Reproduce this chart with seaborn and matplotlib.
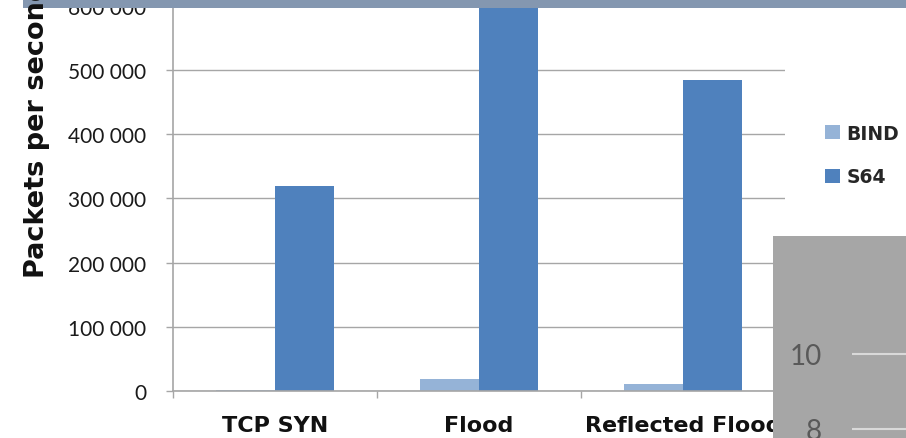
import matplotlib
matplotlib.use("Agg")
import matplotlib.pyplot as plt
import matplotlib.patches as mpatches
import seaborn as sns
import pandas as pd

# Throughput per attack type
categories = ["TCP SYN", "Flood", "Reflected Flood"]
servers = ["BIND", "S64"]
bind_pps = [1000, 18000, 11000]
s64_pps = [320000, 650000, 485000]
y_ticks = [0, 100000, 200000, 300000, 400000, 500000, 600000, 700000]
y_tick_labels = ["0", "100 000", "200 000", "300 000", "400 000", "500 000", "600 000", "700 000"]
side_ticks = [8, 10]

colors = {"BIND": "#95B3D7", "S64": "#4F81BD"}

df = pd.DataFrame({
    "attack": categories * 2,
    "server": ["BIND"] * 3 + ["S64"] * 3,
    "pps": bind_pps + s64_pps,
})

sns.set_style("white")
plt.rcParams["font.family"] = ["DejaVu Sans"]

W, H = 906, 439
fig = plt.figure(figsize=(W / 100, H / 100), dpi=100)

def frac(x0, y0, x1, y1):
    return [x0 / W, 1 - y1 / H, (x1 - x0) / W, (y1 - y0) / H]

# main chart; 0 at y=392 px, 100k per 64.2 px
px_per_unit = 64.2 / 100000
ymax = 700000
ax_top = 392 - ymax * px_per_unit
ax = fig.add_axes(frac(173, ax_top, 785, 392))
sns.barplot(data=df, x="attack", y="pps", hue="server", order=categories,
            hue_order=servers, palette=colors, width=0.574, gap=0,
            saturation=1, ax=ax, legend=False, linewidth=0)
ax.set_xlim(-0.5, 2.5)
ax.set_ylim(0, ymax)
ax.set_yticks(y_ticks)
ax.set_yticklabels(y_tick_labels, fontfamily="Lato", fontsize=15, color="#1a1a1a")
ax.yaxis.grid(True, color="#A6A6A6", linewidth=1)
ax.set_axisbelow(True)
ax.set_xlabel("")
ax.set_ylabel("")
for s in ["top", "right"]:
    ax.spines[s].set_visible(False)
for s in ["left", "bottom"]:
    ax.spines[s].set_color("#A6A6A6")
    ax.spines[s].set_linewidth(1.2)
ax.tick_params(axis="y", which="major", left=True, length=5, width=1, color="#A6A6A6", pad=14)
ax.set_xticks([-0.5, 0.5, 1.5, 2.5])
ax.set_xticklabels([])
ax.set_xticks([0, 1, 2], minor=True)
ax.set_xticklabels(categories, minor=True, fontweight="bold", fontsize=16, color="#111111")
ax.tick_params(axis="x", which="major", bottom=True, length=5, width=1, color="#A6A6A6")
ax.tick_params(axis="x", which="minor", bottom=False, length=0, pad=17)

fig.text(37 / W, 1 - 278 / H, "Packets per second", rotation=90, ha="center", va="bottom",
         fontsize=19.5, fontweight="bold", color="#111111")

handles = [mpatches.Patch(facecolor=colors[s], edgecolor="none", label=s) for s in servers]
fig.legend(handles=handles, loc="center left", bbox_to_anchor=(808 / W, 1 - 156 / H),
           frameon=False, handlelength=0.8, handleheight=0.8, handletextpad=0.35,
           labelspacing=1.3, prop={"weight": "bold", "size": 13.5})

# banner along the top edge
band = fig.add_axes(frac(23, 0, 906, 9))
band.set_facecolor("#8497B0")
band.set_xticks([]); band.set_yticks([])
for s in band.spines.values():
    s.set_visible(False)

# grey panel at lower right
panel = fig.add_axes(frac(773, 237, 906, 439))
panel.set_facecolor("#A6A6A6")
panel.set_xticks([]); panel.set_yticks([])
for s in panel.spines.values():
    s.set_visible(False)

inner = fig.add_axes(frac(852, 237, 906, 439))
inner.patch.set_alpha(0)
y_at_10, y_at_8 = 355, 430
per_px = 2 / (y_at_8 - y_at_10)
inner.set_ylim(8 - (439 - y_at_8) * per_px, 10 + (y_at_10 - 237) * per_px)
inner.set_xlim(0, 1)
inner.set_xticks([])
inner.set_yticks(side_ticks)
inner.set_yticklabels([str(t) for t in side_ticks], fontfamily="Lato", fontsize=20, color="#595959")
inner.tick_params(axis="y", length=0, pad=22)
inner.yaxis.grid(True, color="#D9D9D9", linewidth=1.5)
for s in inner.spines.values():
    s.set_visible(False)

fig.savefig("out.png", dpi=100)
